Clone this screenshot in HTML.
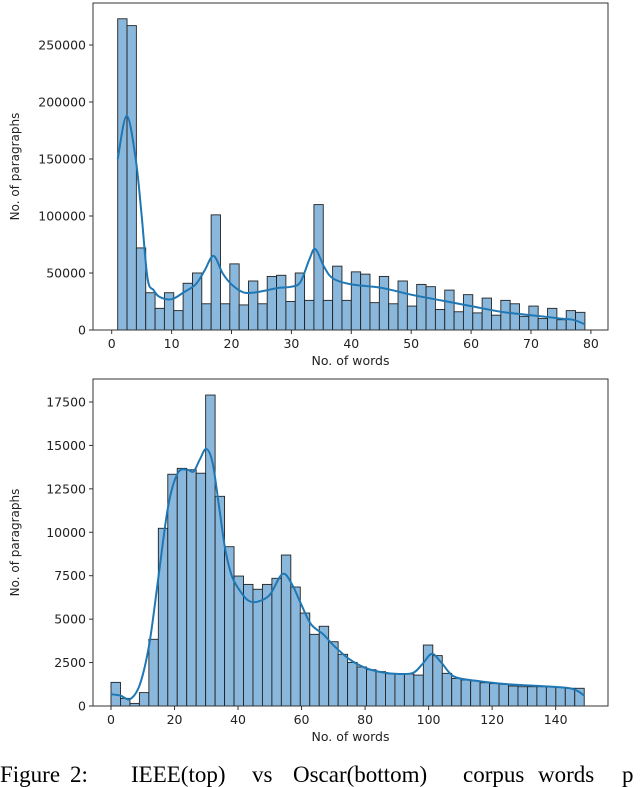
<!DOCTYPE html>
<html><head><meta charset="utf-8"><style>
body{margin:0;background:#fff;width:640px;height:775px;overflow:hidden;position:relative}
svg{position:absolute;left:0;top:0}
.cap{position:absolute;top:763px;font-family:"Liberation Serif",serif;font-size:23px;line-height:1;color:#000;white-space:nowrap}
</style></head><body>
<svg id="chart" width="640" height="775"></svg>
<span class="cap" style="left:0px">Figure</span>
<span class="cap" style="left:70px">2:</span>
<span class="cap" style="left:131px">IEEE(top)</span>
<span class="cap" style="left:252px">vs</span>
<span class="cap" style="left:293px">Oscar(bottom)</span>
<span class="cap" style="left:463px">corpus</span>
<span class="cap" style="left:538px">words</span>
<span class="cap" style="left:622px">p</span>
<script>
const topCounts=[273000,267000,72000,32700,19000,32700,17000,41000,50000,23000,101000,23000,58000,22000,43000,23000,47000,48000,25000,50000,26000,110000,26000,56000,26000,51000,49000,24000,47000,23000,43000,21000,40000,38000,18000,35000,16000,31000,15000,28000,13000,26000,23000,12000,21000,10000,19000,9000,17000,15500];
const topKdeX=[1,2.5,4,5,6,7,8,10,12,14,15.5,17,18.5,20,22,24,26,28,30,31.5,33,34,35.5,37,40,45,50,55,60,65,70,75,77,79];
const topKdeY=[150000,188000,150000,100000,45000,35000,29000,27000,33000,40000,52000,65000,50000,40000,33000,33000,35000,37000,38000,42000,62000,71000,55000,45000,40000,37000,31000,26000,21000,16000,13000,10000,9000,5000];
const topXTicks=[0,10,20,30,40,50,60,70,80];
const topYTicks=[0,50000,100000,150000,200000,250000];
const botCounts=[1360,440,150,770,3840,10230,13340,13680,13600,13400,17900,12070,9170,7480,7000,6720,7000,7350,8690,6850,5350,4125,4590,3700,2975,2510,2245,2090,1980,1860,1860,1840,1780,3510,2900,1880,1590,1500,1440,1340,1290,1250,1150,1110,1110,1110,1090,1070,1020,1020];
const botKdeX=[0,3,6,9,12,15,18,21,24,26,28,30,32,34,36,38,40,43,46,50,54,57,60,63,67,70,75,80,85,90,95,98,101,104,108,115,125,135,145,149];
const botKdeY=[680,600,400,1200,3500,7500,11500,13400,13600,13500,14200,14800,14000,11500,9000,7500,6800,6100,6000,6400,7600,7000,5800,4700,4100,3500,2700,2200,1950,1850,1900,2400,3000,2500,1700,1450,1250,1150,1000,600];
const botXTicks=[0,20,40,60,80,100,120,140];
const botYTicks=[0,2500,5000,7500,10000,12500,15000,17500];

const svg=document.getElementById('chart');
const NS='http://www.w3.org/2000/svg';
function mk(tag,attrs,parent){const e=document.createElementNS(NS,tag);for(const k in attrs)e.setAttribute(k,attrs[k]);(parent||svg).appendChild(e);return e;}

function smoothPath(pts){
  let d='M'+pts[0][0].toFixed(1)+','+pts[0][1].toFixed(1);
  for(let i=0;i<pts.length-1;i++){
    const p0=pts[Math.max(i-1,0)],p1=pts[i],p2=pts[i+1],p3=pts[Math.min(i+2,pts.length-1)];
    const c1x=p1[0]+(p2[0]-p0[0])/6,c1y=p1[1]+(p2[1]-p0[1])/6;
    const c2x=p2[0]-(p3[0]-p1[0])/6,c2y=p2[1]-(p3[1]-p1[1])/6;
    d+=`C${c1x.toFixed(1)},${c1y.toFixed(1)} ${c2x.toFixed(1)},${c2y.toFixed(1)} ${p2[0].toFixed(1)},${p2[1].toFixed(1)}`;
  }
  return d;
}

function drawChart(cfg){
  const g=mk('g',{});
  
  
  const xs=v=>cfg.x0px+(v-cfg.xmin0)*cfg.pxPerX;
  const ys=v=>cfg.bottom-v*cfg.pxPerY;
  const bw=(cfg.binEnd-cfg.binStart)/cfg.counts.length;
  cfg.counts.forEach((c,i)=>{
    const a=cfg.binStart+i*bw;
    const r=mk('rect',{x:xs(a),y:ys(c),width:bw*cfg.pxPerX,height:c*cfg.pxPerY,fill:'#8ab8dc',stroke:'#222','stroke-width':0.9},g);
    
    
  });
  const pts=cfg.kx.map((x,i)=>[xs(x),ys(cfg.ky[i])]);
  const p=mk('path',{d:smoothPath(pts),fill:'none',stroke:'#1f77b4','stroke-width':2,'stroke-linejoin':'round'},g);
  
  
  const fr=mk('rect',{x:cfg.left,y:cfg.top,width:cfg.right-cfg.left,height:cfg.bottom-cfg.top,fill:'none',stroke:'#333','stroke-width':1},g);
  
  
  cfg.xt.forEach(t=>{
    const x=xs(t);
    mk('line',{x1:x,x2:x,y1:cfg.bottom,y2:cfg.bottom+4,stroke:'#333'},g);
    const tx=mk('text',{x:x,y:cfg.bottom+18,'text-anchor':'middle','font-family':'DejaVu Sans, sans-serif','font-size':12.5,fill:'#222'},g);
    tx.textContent=t;
    
    
  });
  cfg.yt.forEach(t=>{
    const y=ys(t);
    mk('line',{x1:cfg.left-4,x2:cfg.left,y1:y,y2:y,stroke:'#333'},g);
    const tx=mk('text',{x:cfg.left-7,y:y+4.5,'text-anchor':'end','font-family':'DejaVu Sans, sans-serif','font-size':12.5,fill:'#222'},g);
    tx.textContent=t;
    
    
  });
  const xl=mk('text',{x:(cfg.left+cfg.right)/2,y:cfg.bottom+35,'text-anchor':'middle','font-family':'DejaVu Sans, sans-serif','font-size':12.5,fill:'#222'},g);
  xl.textContent='No. of words';
  
  
  const cy=(cfg.top+cfg.bottom)/2;
  const yl=mk('text',{x:cfg.ylabX,y:cy,'text-anchor':'middle','font-family':'DejaVu Sans, sans-serif','font-size':12,fill:'#222',transform:`rotate(-90 ${cfg.ylabX} ${cy})`},g);
  yl.textContent='No. of paragraphs';
  
  
}
drawChart({name:'ieee-chart',left:93,right:608,top:3,bottom:330,x0px:111.7,xmin0:0,pxPerX:5.99,pxPerY:57/50000,binStart:1,binEnd:79,counts:topCounts,kx:topKdeX,ky:topKdeY,xt:topXTicks,yt:topYTicks,ylabX:19});
drawChart({name:'oscar-chart',left:93,right:608,top:379,bottom:706,x0px:111,xmin0:0,pxPerX:3.176,pxPerY:43.43/2500,binStart:0,binEnd:149,counts:botCounts,kx:botKdeX,ky:botKdeY,xt:botXTicks,yt:botYTicks,ylabX:19});
</script>
</body></html>
